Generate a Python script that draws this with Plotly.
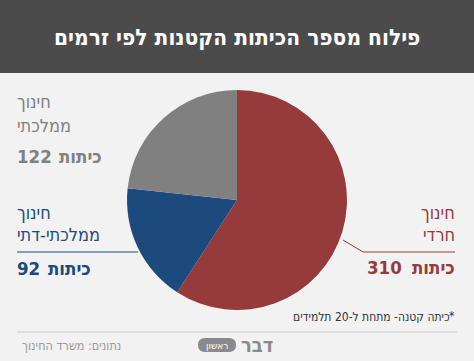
import plotly.graph_objects as go

categories = ["חינוך חרדי", "חינוך ממלכתי-דתי", "חינוך ממלכתי"]
values = [310, 92, 122]
colors = ["#963b3b", "#1d4a7d", "#808080"]
title_text = "פילוח מספר הכיתות הקטנות לפי זרמים"
unit_word = "כיתות"
footnote = "כיתה קטנה- מתחת ל-20 תלמידים"
source = "נתונים: משרד החינוך"

W, H = 474, 361
FONT = "DejaVu Sans Condensed, DejaVu Sans, sans-serif"

def px(x):
    return x / W

def py(y):
    return 1 - y / H

fig = go.Figure()
fig.add_trace(go.Pie(
    labels=categories, values=values, sort=False, direction="clockwise", rotation=0,
    marker=dict(colors=colors, line=dict(width=0)),
    textinfo="none", hoverinfo="label+value", showlegend=False,
    domain=dict(x=[px(127), px(347)], y=[py(310), py(90)]),
))

shapes = [
    dict(type="rect", xref="paper", yref="paper", x0=0, x1=1, y0=py(73), y1=1,
         fillcolor="#4b4b4b", line=dict(width=0), layer="below"),
    dict(type="line", xref="paper", yref="paper", x0=px(17), x1=px(138), y0=py(252), y1=py(252),
         line=dict(color="#1d4a7d", width=1)),
    dict(type="line", xref="paper", yref="paper", x0=px(343), x1=px(363), y0=py(240), y1=py(252),
         line=dict(color="#963b3b", width=1)),
    dict(type="line", xref="paper", yref="paper", x0=px(363), x1=px(455), y0=py(252), y1=py(252),
         line=dict(color="#963b3b", width=1)),
    dict(type="line", xref="paper", yref="paper", x0=px(17), x1=px(457), y0=py(332), y1=py(332),
         line=dict(color="#c8c8c8", width=1)),
    dict(type="path", xref="paper", yref="paper",
         path=f"M {px(205)},{py(338)} L {px(229)},{py(338)} Q {px(236)},{py(338)} {px(236)},{py(345)} Q {px(236)},{py(352)} {px(229)},{py(352)} L {px(205)},{py(352)} Q {px(198)},{py(352)} {px(198)},{py(345)} Q {px(198)},{py(338)} {px(205)},{py(338)} Z",
         fillcolor="#8a8a8a", line=dict(width=0)),
]

ann = []
def add(text, x, y, size, color, xanchor="left", bold=False):
    t = f"<b>{text}</b>" if bold else text
    ann.append(dict(text=t, x=px(x), y=py(y), xref="paper", yref="paper", showarrow=False,
                    xanchor=xanchor, yanchor="middle", font=dict(family=FONT, size=size, color=color)))

add(title_text, 237, 37, 22.5, "#ffffff", xanchor="center", bold=True)
# gray
add("חינוך", 15, 102, 18, "#808080")
add("ממלכתי", 15, 125, 18, "#808080")
add(str(values[2]), 15, 156, 18.5, "#808080", bold=True)
add(unit_word, 104, 156, 18.5, "#808080", xanchor="right", bold=True)
# blue
add("חינוך", 15, 212, 18, "#1d4a7d")
add("ממלכתי-דתי", 15, 234, 18, "#1d4a7d")
add(str(values[1]), 15, 268, 18.5, "#1d4a7d", bold=True)
add(unit_word, 93, 268, 18.5, "#1d4a7d", xanchor="right", bold=True)
# red
add("חינוך", 457, 212, 18, "#963b3b", xanchor="right")
add("חרדי", 457, 234, 18, "#963b3b", xanchor="right")
add(str(values[0]), 404, 267, 18.5, "#963b3b", xanchor="right", bold=True)
add(unit_word, 457, 267, 18.5, "#963b3b", xanchor="right", bold=True)
# footnote, source, logo
add("*", 457, 316, 12, "#333333", xanchor="right")
add(footnote, 452, 317, 12, "#333333", xanchor="right")
add(source, 20, 345, 12.5, "#999999")
add("ראשון", 217, 345, 10, "#ffffff", xanchor="center")
add("דבר", 257, 345, 20, "#8a8a8a", xanchor="center", bold=True)

fig.update_layout(
    width=W, height=H, margin=dict(l=0, r=0, t=0, b=0),
    paper_bgcolor="#f2f2f2", plot_bgcolor="#f2f2f2",
    shapes=shapes, annotations=ann,
)
fig.write_html("out.html", config={"displayModeBar": False},
               post_script="document.body.style.margin='0';")
